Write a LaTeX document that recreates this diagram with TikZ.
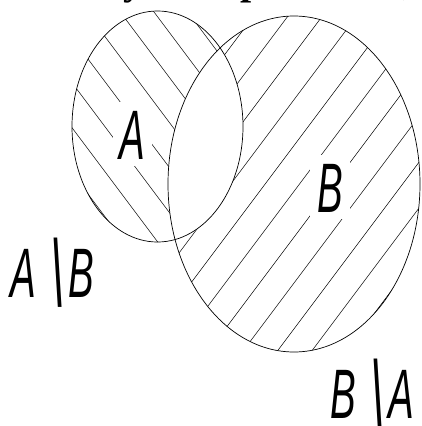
\documentclass[tikz,border=0pt]{standalone}
\usepackage{fontspec}
\usepackage{graphicx}
\newfontfamily\gost[FakeStretch=0.55]{Liberation Sans}
\newfontfamily\toptext{Liberation Serif}
\newcommand\bsl{\hspace{15pt}\raisebox{-9pt}{\scalebox{1.3}[1.35]{\textbackslash}}\hspace{4pt}}
\begin{document}
\begin{tikzpicture}[x=1pt,y=-1pt,
  outline/.style={line width=0.7pt},
  hatch/.style={line width=0.5pt},
  lbl/.style={font=\gost\itshape\fontsize{70}{70}\selectfont, inner sep=0pt},
  inlbl/.style={lbl, fill=white, inner sep=7pt, text height=50pt, text depth=0pt},
  frag/.style={font=\toptext\bfseries\fontsize{40}{40}\selectfont, inner sep=0pt, anchor=base}
  ]
\useasboundingbox (0,0) rectangle (421,426);
\coordinate (ca) at (157.5,126.5);
\coordinate (cb) at (294,184);
% fragments of a text line cut off at the top
\begin{scope}
\clip (0,0) rectangle (421,426);
\node[frag] (f1) at (133,-6) {y};
\node[frag] (f2) at (252,-6) {p};
\node[frag] (f3) at (408,-6) {,};
\end{scope}
% hatch of A \ B
\begin{scope}
\clip (ca) ellipse [x radius=85.5, y radius=115.5];
\foreach \k in {-6,...,9} {
  \pgfmathsetmacro\c{8+27*\k}
  \draw[hatch] ({\c*0.8-600*0.6},{-\c*0.6-600*0.8}) -- ({\c*0.8+600*0.6},{-\c*0.6+600*0.8});
}
\end{scope}
% hatch of B \ A
\begin{scope}
\clip (cb) ellipse [x radius=126, y radius=168];
\foreach \k in {-9,...,5} {
  \pgfmathsetmacro\c{405+27.5*\k}
  \draw[hatch] ({\c*0.8-600*0.6},{\c*0.6+600*0.8}) -- ({\c*0.8+600*0.6},{\c*0.6-600*0.8});
}
\end{scope}
% intersection left blank
\begin{scope}
\clip (ca) ellipse [x radius=85.5, y radius=115.5];
\fill[white] (cb) ellipse [x radius=126, y radius=168];
\end{scope}
% labels inside
\node[inlbl] (la) at (132.5,134) {A};
\node[inlbl] (lb) at (330,187) {B};
% outlines
\draw[outline] (ca) ellipse [x radius=85.5, y radius=115.5];
\draw[outline] (cb) ellipse [x radius=126, y radius=168];
% difference labels
\node[lbl, anchor=base west] (ab) at (10,297) {A\bsl B};
\node[lbl, anchor=base west] (ba) at (330,418) {B\bsl A};
\end{tikzpicture}
\end{document}
